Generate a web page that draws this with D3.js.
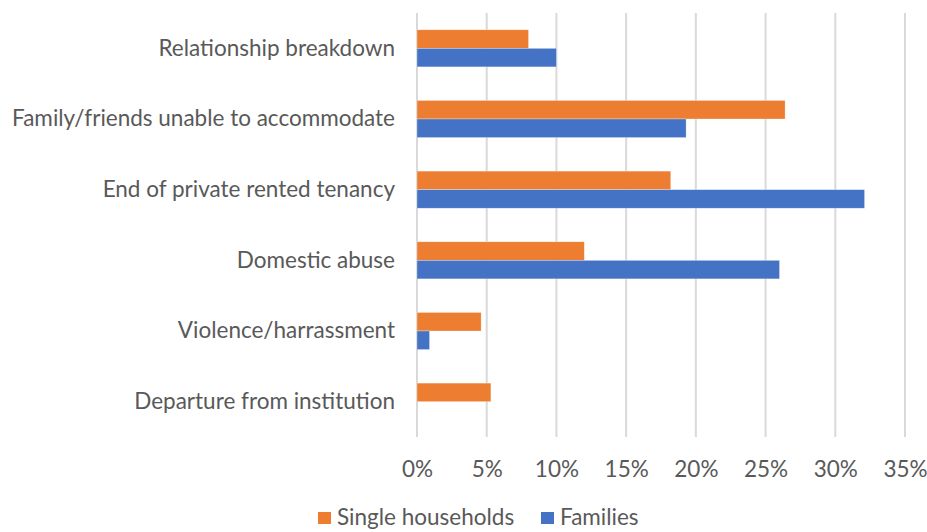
<!DOCTYPE html>
<html>
<head>
<meta charset="utf-8">
<script src="https://cdn.jsdelivr.net/npm/d3@7"></script>
<style>
  html, body { margin: 0; padding: 0; background: #fff; overflow: hidden; }
  svg text { font-family: Lato, "Open Sans", sans-serif; fill: #595959; }
</style>
</head>
<body>
<svg id="chart" width="927" height="532"></svg>
<script>
// Reasons for homelessness, share of cases by household type
const categories = [
  "Relationship breakdown",
  "Family/friends unable to accommodate",
  "End of private rented tenancy",
  "Domestic abuse",
  "Violence/harrassment",
  "Departure from institution"
];
const seriesNames = ["Single households", "Families"];
const singleHouseholds = [8.0, 26.4, 18.2, 12.0, 4.6, 5.3];
const families = [10.0, 19.3, 32.1, 26.0, 0.9, 0];
const tickValues = [0, 5, 10, 15, 20, 25, 30, 35];
const colors = ["#ED7D31", "#4472C4"];

const fontSize = 22.5;
const svg = d3.select("#chart");
const margin = { left: 417, right: 22, top: 13, bottom: 95 };
const height = 532 - margin.top - margin.bottom;

const x = d3.scaleLinear().domain([0, 35]).range([0, 488]);
const y = d3.scaleBand().domain(categories).range([0, height]).paddingInner(0.475).paddingOuter(0.2375);
const sub = d3.scaleBand().domain(seriesNames).range([0, y.bandwidth()]);

const g = svg.append("g").attr("transform", `translate(${margin.left},${margin.top})`);

// vertical gridlines
g.append("g")
  .selectAll("line")
  .data(tickValues)
  .join("line")
  .attr("x1", d => x(d)).attr("x2", d => x(d))
  .attr("y1", 0).attr("y2", height)
  .attr("stroke", "#d9d9d9")
  .attr("stroke-width", 2);

// bars
const rows = categories.map((c, i) => ({ cat: c, vals: [singleHouseholds[i], families[i]] }));
const row = g.append("g").selectAll("g")
  .data(rows)
  .join("g")
  .attr("transform", d => `translate(0,${y(d.cat)})`);
row.selectAll("rect")
  .data(d => d.vals.map((v, k) => ({ v, k })))
  .join("rect")
  .attr("x", x(0))
  .attr("y", d => sub(seriesNames[d.k]))
  .attr("width", d => x(d.v) - x(0))
  .attr("height", sub.bandwidth())
  .attr("fill", d => colors[d.k])
  .attr("stroke", "#fff")
  .attr("stroke-opacity", 0.5)
  .attr("stroke-width", 0.6);

// category labels
const yAxis = d3.axisLeft(y).tickSize(0).tickPadding(22);
g.append("g").call(yAxis)
  .call(s => s.select(".domain").remove())
  .selectAll("text")
  .attr("font-size", fontSize)
  .style("font-family", "Lato, 'Open Sans', sans-serif")
  .attr("fill", "#595959");

// value axis
const xAxis = d3.axisBottom(x).tickValues(tickValues).tickFormat(d => d + "%").tickSize(0).tickPadding(24);
g.append("g").attr("transform", `translate(0,${height})`).call(xAxis)
  .call(s => s.select(".domain").remove())
  .selectAll("text")
  .attr("font-size", fontSize)
  .style("font-family", "Lato, 'Open Sans', sans-serif")
  .attr("fill", "#595959");

// legend
const legend = svg.append("g").attr("transform", "translate(318,517)");
const items = [
  { name: seriesNames[0], color: colors[0], x: 0 },
  { name: seriesNames[1], color: colors[1], x: 223 }
];
const li = legend.selectAll("g").data(items).join("g").attr("transform", d => `translate(${d.x},0)`);
li.append("rect").attr("x", 0).attr("y", -5).attr("width", 13).attr("height", 12).attr("fill", d => d.color);
li.append("text").attr("x", 19).attr("y", 0).attr("dy", "0.35em").attr("font-size", fontSize).text(d => d.name);
</script>
</body>
</html>
